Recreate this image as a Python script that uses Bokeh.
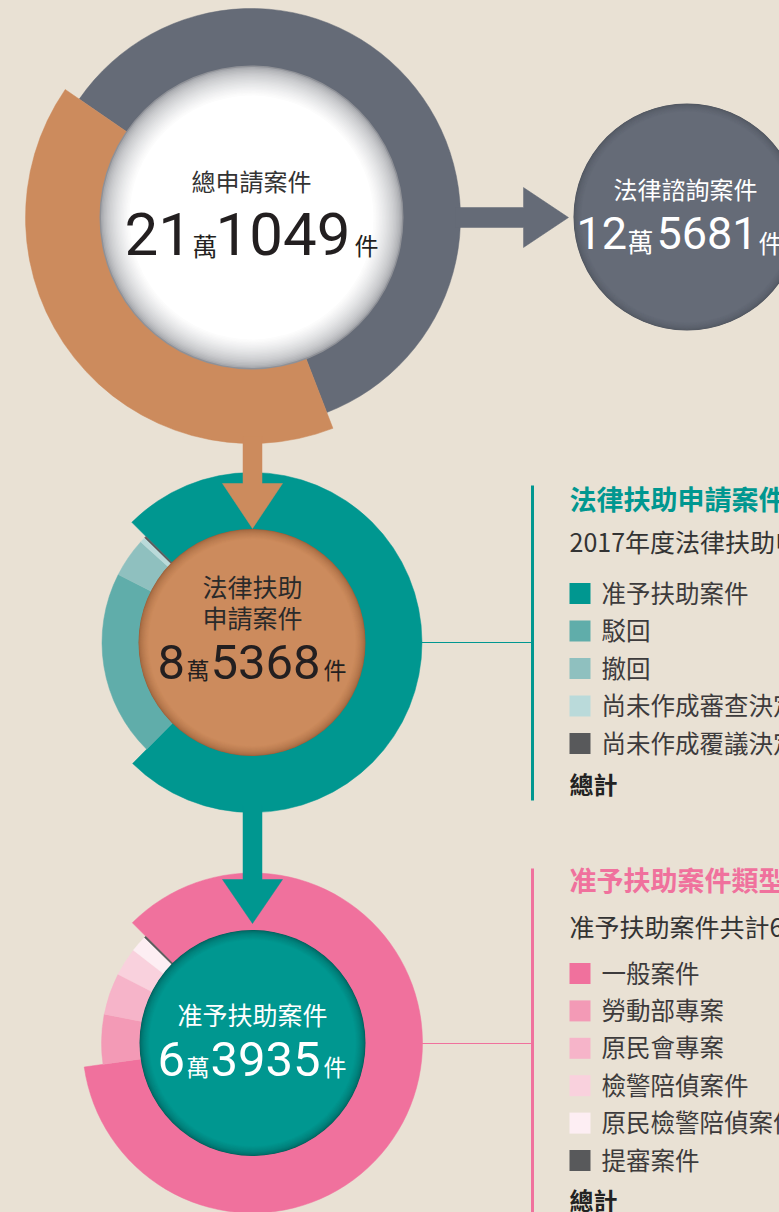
import numpy as np
from bokeh.plotting import figure
from bokeh.models import Range1d
from bokeh.embed import file_html
from bokeh.resources import INLINE
from bokeh.core.properties import value

# ---------------- data ----------------
TOTAL_LABELS = ["法律諮詢案件", "法律扶助申請案件"]
TOTAL_VALUES = [125681, 85368]
TOTAL_COLORS = ["#656b77", "#cc8b5d"]

APPLY_LABELS = ["准予扶助案件", "駁回", "撤回", "尚未作成審查決定", "尚未作成覆議決定"]
APPLY_VALUES = [63935, 17150, 3600, 520, 163]
APPLY_COLORS = ["#009790", "#60adaa", "#8fc0bf", "#badada", "#58595b"]

GRANT_LABELS = ["一般案件", "勞動部專案", "原民會專案", "檢警陪偵案件", "原民檢警陪偵案件", "提審案件"]
GRANT_VALUES = [54500, 3400, 2850, 1930, 1135, 120]
GRANT_COLORS = ["#f0719d", "#f39ab6", "#f6b4c9", "#f9d1dd", "#fdeef3", "#58595b"]

APPLY_TITLE = "法律扶助申請案件"
APPLY_NOTE = "2017年度法律扶助申請案件共計8萬5368件"
GRANT_TITLE = "准予扶助案件類型"
GRANT_NOTE = "准予扶助案件共計6萬3935件"
TOTAL_WORD = "總計"

# ---------------- layout / style ----------------
BG = "#e9e1d4"
TEAL = APPLY_COLORS[0]
PINK = GRANT_COLORS[0]
GRAY = TOTAL_COLORS[0]
ORANGE = TOTAL_COLORS[1]
INK = "#231f20"
CJK = "Noto Sans CJK TC"
NUM = "Roboto"

W, H = 779, 1212
p = figure(width=W, height=H, output_backend="svg", toolbar_location=None,
           x_range=Range1d(0, W), y_range=Range1d(0, H), min_border=0)
p.axis.visible = False
p.grid.visible = False
p.outline_line_color = None
p.background_fill_color = BG
p.border_fill_color = BG


def Y(v):
    return H - v


def mix(c1, c2, t):
    a = [int(c1[i:i + 2], 16) for i in (1, 3, 5)]
    b = [int(c2[i:i + 2], 16) for i in (1, 3, 5)]
    return "#%02x%02x%02x" % tuple(int(round(a[k] + (b[k] - a[k]) * t)) for k in range(3))


def donut(cx, cy, values, colors, outers, start_deg, inner):
    v = np.array(values, float)
    frac = np.cumsum(np.r_[0, v]) / v.sum()
    s = np.deg2rad(start_deg)
    a0 = s - frac[1:] * 2 * np.pi
    a1 = s - frac[:-1] * 2 * np.pi
    n = len(v)
    p.annular_wedge(x=[cx] * n, y=[Y(cy)] * n, inner_radius=inner, outer_radius=outers,
                    start_angle=list(a0), end_angle=list(a1), fill_color=colors,
                    line_color=colors, line_width=0.5)


def disc(cx, cy, R, rim, core, width, steps=22, ease=0.6):
    rs, cs = [], []
    for k in range(steps):
        t = k / (steps - 1)
        rs.append(R - t * width)
        cs.append(mix(rim, core, t ** ease))
    p.circle(x=[cx] * steps, y=[Y(cy)] * steps, radius=rs, fill_color=cs, line_color=None)


def down_arrow(cx, y_top, y_head, y_tip, sw, hw, color):
    xs = [cx - sw / 2, cx + sw / 2, cx + sw / 2, cx + hw / 2, cx, cx - hw / 2, cx - sw / 2]
    ys = [y_top, y_top, y_head, y_head, y_tip, y_head, y_head]
    p.patch(xs, [Y(v) for v in ys], fill_color=color, line_color=color, line_width=0.5)


def txt(x, y, s, size, color, font=CJK, align="left", bold=False):
    # y is the visual centre of the glyphs
    p.text(x=[x], y=[Y(y - 2)], text=[s], text_font=value(font), text_font_size="%gpx" % size,
           text_color=color, text_align=align, text_baseline="middle",
           text_font_style="bold" if bold else "normal")


def split(n):
    wan, rest = divmod(int(n), 10000)
    return str(wan), "%04d" % rest


# ---------------- top donut ----------------
TCX, TCY = 251, 217
donut(TCX, TCY, TOTAL_VALUES, TOTAL_COLORS, [209, 226], 145.5, 140)
disc(TCX, TCY, 152, "#8f9197", "#ffffff", 30, ease=0.5)

# gray arrow to consultation circle
p.patch([455, 523, 523, 568, 523, 523, 455], [Y(v) for v in [207, 207, 187, 217, 247, 227, 227]],
        fill_color=GRAY, line_color=GRAY, line_width=0.5)

# consultation circle
disc(686.5, 216.5, 113.5, "#50555f", GRAY, 8, ease=0.5)

# ---------------- middle donut ----------------
MCX, MCY = 251.5, 642
donut(MCX, MCY, APPLY_VALUES, APPLY_COLORS, [170] + [150] * (len(APPLY_VALUES) - 1), 135, 100)
down_arrow(252, 436, 483, 528, 19, 60, ORANGE)
disc(MCX, MCY, 113.5, "#99603a", ORANGE, 10, ease=0.5)

# ---------------- bottom donut ----------------
BCX, BCY = 252, 1042.5
donut(BCX, BCY, GRANT_VALUES, GRANT_COLORS, [170] + [151] * (len(GRANT_VALUES) - 1), 135, 100)
down_arrow(252, 805, 879, 923, 19, 60, TEAL)
disc(BCX, BCY, 113, "#005f5b", TEAL, 10, ease=0.5)

# ---------------- centre texts ----------------
tot = sum(TOTAL_VALUES)
a, b = split(tot)
txt(251, 182, "總申請案件", 24, "#333333", align="center")
txt(124, 235, a, 60, INK, NUM)
txt(192, 246, "萬", 25, INK)
txt(215, 235, b, 60, INK, NUM)
txt(354, 246, "件", 24, INK)

a, b = split(TOTAL_VALUES[0])
txt(685, 190, TOTAL_LABELS[0], 24, "#ffffff", align="center")
txt(576, 234, a, 45, "#ffffff", NUM)
txt(627, 242, "萬", 26, "#ffffff")
txt(656, 234, b, 45, "#ffffff", NUM)
txt(758, 243, "件", 25, "#ffffff")

a, b = split(sum(APPLY_VALUES))
txt(252, 587, "法律扶助", 25, "#2a2a2a", align="center")
txt(252, 618, "申請案件", 25, "#2a2a2a", align="center")
txt(157, 663, a, 49, INK, NUM)
txt(186, 670, "萬", 23, INK)
txt(210, 663, b, 49, INK, NUM)
txt(323, 670, "件", 23, INK)

a, b = split(sum(GRANT_VALUES))
txt(252, 1015, APPLY_LABELS[0], 25, "#ffffff", align="center")
txt(157, 1060, a, 49, "#ffffff", NUM)
txt(186, 1067, "萬", 23, "#ffffff")
txt(210, 1060, b, 49, "#ffffff", NUM)
txt(323, 1067, "件", 23, "#ffffff")

# ---------------- legends ----------------
LEG_TXT = "#3d3b3c"


def legend(line_color, y_line_top, y_line_bot, y_link, title, title_y, note, note_y,
           labels, colors, row0, step):
    p.segment(x0=[532], y0=[Y(y_line_top)], x1=[532], y1=[Y(y_line_bot)],
              line_color=line_color, line_width=3)
    p.segment(x0=[420], y0=[Y(y_link)], x1=[532], y1=[Y(y_link)],
              line_color=line_color, line_width=1.2)
    txt(569, title_y, title, 27, line_color, bold=True)
    txt(569, note_y, note, 25, "#333333")
    ys = [Y(row0 + i * step) for i in range(len(labels))]
    p.rect(x=[579.5] * len(labels), y=ys, width=21, height=21, fill_color=colors, line_color=None)
    p.text(x=[601] * len(labels), y=[v + 1.5 for v in ys], text=labels, text_font=value(CJK),
           text_font_size="24.5px", text_color=LEG_TXT, text_baseline="middle")
    txt(569, row0 + len(labels) * step + 4, TOTAL_WORD, 24, "#222222", bold=True)


legend(TEAL, 485, 800, 642, APPLY_TITLE, 500, APPLY_NOTE, 542,
       APPLY_LABELS, APPLY_COLORS, 593, 37.5)
legend(PINK, 868, 1212, 1043, GRANT_TITLE, 881, GRANT_NOTE, 927,
       GRANT_LABELS, GRANT_COLORS, 973, 37.4)

html = file_html(p, INLINE)
html = html.replace("<body>", '<body style="background-color:%s;">' % BG)
open("out.html", "w").write(html)
